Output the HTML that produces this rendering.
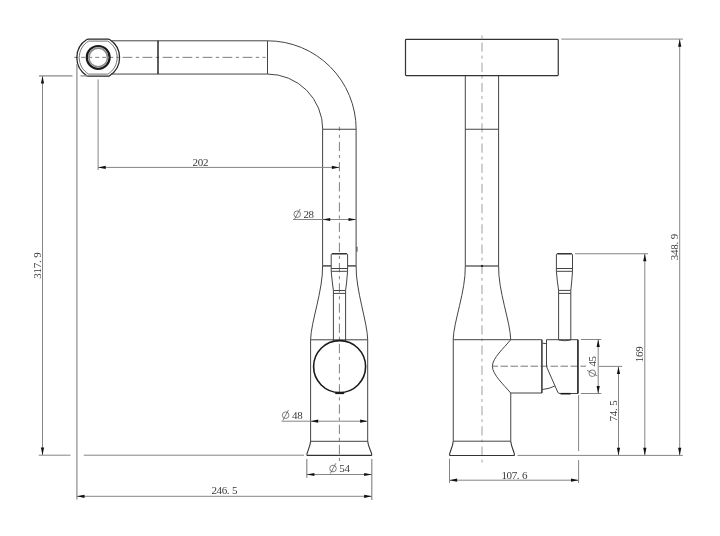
<!DOCTYPE html>
<html><head><meta charset="utf-8"><title>Faucet dimensions</title>
<style>
html,body{margin:0;padding:0;background:#fff;}
body{width:720px;height:536px;overflow:hidden;}
svg{display:block;}
text{font-family:"Liberation Serif",serif;font-size:11px;fill:#3a3a3a;}
.o{fill:none;stroke:#444;stroke-width:1;}
.k{fill:none;stroke:#1a1a1a;stroke-width:1.6;}
.d{fill:none;stroke:#858585;stroke-width:1;}
.s{fill:none;stroke:#555;stroke-width:0.75;}
.e{fill:none;stroke:#8a8a8a;stroke-width:1.2;}
.c{fill:none;stroke:#999;stroke-width:0.95;stroke-dasharray:8 2.5 2 2.5;}
.a{fill:#111;stroke:none;}
</style></head><body>
<svg width="720" height="536" viewBox="0 0 720 536">
<defs><filter id="idf" x="0" y="0" width="720" height="536" filterUnits="userSpaceOnUse" color-interpolation-filters="sRGB"><feOffset dx="0" dy="0"/></filter></defs>
<rect width="720" height="536" fill="#fff"/>

<g id="front">
<path class="c" style="stroke:#777;stroke-dasharray:4 3" d="M74.2,57.35H120"/>
<path class="c" style="stroke:#777;stroke-dasharray:9.7 3.5 3.3 3.5" d="M122.6,57.35H265.6"/>
<path class="c" style="stroke:#777;stroke-dasharray:9.3 3.8 3.1 4;stroke-dashoffset:5.1" d="M339.4,126.7V462"/>
<path class="o" style="stroke:#262626;stroke-width:1.25" d="M88.2,39H108.2Q109,39 109.6,39.5A21.4,21.4 0 0 1 109.6,75.7Q109,76.2 108.2,76.2H88.2Q87.4,76.2 86.8,75.7A21.4,21.4 0 0 1 86.8,39.5Q87.4,39 88.2,39Z"/>
<path class="o" style="stroke:#5a5a5a;stroke-width:0.85" d="M88.6,41.1H107.8A19.2,19.2 0 0 1 107.8,74.1H88.6A19.2,19.2 0 0 1 88.6,41.1Z"/>
<circle cx="98.2" cy="57.4" r="11.4" class="k" style="stroke-width:2.2"/>
<circle cx="98.2" cy="57.4" r="9.3" class="e" style="stroke-width:1.6;stroke:#8a8a8a"/>
<path class="o" d="M111.4,40.8H267.5A88.65,88.65 0 0 1 356.15,129.25"/>
<path class="o" d="M111,74.05H267.5A55.25,55.25 0 0 1 322.75,129.25"/>
<path class="k" d="M158,40.8V74" style="stroke-width:1.4"/>
<path class="o" d="M267.5,40.8V74"/>
<path class="o" d="M322.75,129.25H356.15"/>
<path class="o" d="M322.6,129.25V265.3M356.1,129.25V265.3"/>
<path d="M322.6,265.8H331.2M347.7,265.8H356.1" style="fill:none;stroke:#666;stroke-width:1.8"/>
<path class="o" d="M357,246.7V251.7"/>
<path class="o" d="M322.6,265.3C323.1,290.4 310.9,321.9 310.6,339.8"/>
<path class="o" d="M356.1,265.3C355.6,290.4 367.4,321.9 367.7,339.8"/>
<path class="o" d="M310.6,339.8H367.7"/>
<path class="o" d="M310.6,339.8V441.3M367.7,339.8V441.3"/>
<path class="o" d="M310.6,441.3H367.7"/>
<path class="o" style="stroke:#333;stroke-width:1.1" d="M310.6,441.3C310.3,446 307.7,450.5 306.9,454.2Q306.6,455.4 307.8,455.4H370.8Q372,455.4 371.7,454.2C370.9,450.5 368,446 367.7,441.3"/>
<path class="o" d="M331.2,271.3V254.8Q331.2,253.8 332.2,253.8H346.6Q347.6,253.8 347.6,254.8V271.3"/>
<path class="k" style="stroke-width:1.3;stroke:#333" d="M332,253.7H346.8"/>
<path class="o" d="M331.2,268.5H347.6M331.2,271.3H347.6"/>
<path class="o" d="M331.2,271.3Q332.3,283 333.4,290.5V341M347.6,271.3Q346.7,283 345.6,290.5V341"/>
<path class="o" d="M333.4,290.5H345.6M333.4,293.4H345.6"/>
<circle cx="339.6" cy="366.6" r="26" class="k"/>
<path class="k" d="M335.2,393.5H344.2" style="stroke-width:1.2"/>
</g>

<g id="side">
<path class="c" style="stroke:#9a9a9a;stroke-dasharray:9.2 4 2.8 4.2;stroke-dashoffset:9.2" d="M482,31.5V463.5"/>
<path class="c" d="M492.5,366.2H586" style="stroke:#6a6a6a;stroke-width:0.9;stroke-dasharray:7.5 2.5;stroke-dashoffset:2"/>
<rect x="405.5" y="39.35" width="152.75" height="36.3" rx="0.8" class="o" style="stroke-width:1.2;stroke:#333"/>
<path class="o" d="M465.3,75.65V266M498.6,75.65V266"/>
<path class="o" d="M465.3,129.25H498.6"/>
<path d="M465.3,266H498.6" style="fill:none;stroke:#666;stroke-width:1.6"/>
<circle cx="482" cy="266" r="0.9" fill="#000"/>
<path class="o" d="M465.3,266C465.8,291 453.5,322 453.2,339.6"/>
<path class="o" d="M498.6,266C498.1,291 510.4,322 510.7,339.6"/>
<path class="o" d="M453.2,339.7H541.9"/>
<path class="o" d="M453.25,339.6V441.2M510.75,393V441.2"/>
<path class="o" d="M453.25,441.2H510.75"/>
<path class="o" style="stroke:#333;stroke-width:1.1" d="M453.25,441.2C452.9,446 450.4,450.5 449.6,454.3Q449.3,455.5 450.5,455.5H513.5Q514.7,455.5 514.4,454.3C513.6,450.5 511.1,446 510.75,441.2"/>
<path class="o" d="M510.7,339.7C504,348 492.4,358 492.4,366.3C492.4,374.5 504,385 510.7,393"/>
<path class="o" d="M510.7,393H541.9"/>
<path class="o" style="stroke:#303030;stroke-width:1.5" d="M541.9,339.7V393"/>
<path class="o" d="M542.5,343.2L546.5,343.7"/>
<path class="o" d="M546.5,339.7H577.9V393.5H560Q558.3,393.5 557.7,392L546.5,366.6Z"/>
<path class="o" style="stroke:#2a2a2a;stroke-width:1.5" d="M577.9,339.7V393.5"/>
<path class="o" d="M542.5,389.5Q549.5,388.8 554.8,386"/>
<path class="k" d="M560.6,393.7H570.6" style="stroke-width:1.6"/>
<path class="o" d="M556.4,271.3V254.8Q556.4,253.8 557.4,253.8H571.5Q572.5,253.8 572.5,254.8V271.3"/>
<path class="k" style="stroke-width:1.3;stroke:#333" d="M557.2,253.7H571.7"/>
<path class="o" d="M556.4,268.5H572.5M556.4,271.3H572.5"/>
<path class="o" d="M556.4,271.3Q557.4,283 558.6,290.4V340Q564.7,341.5 570.8,340V290.4Q571.7,283 572.5,271.3"/>
<path class="o" d="M558.6,290.4H570.8M558.6,293.4H570.8"/>
</g>

<g id="dims" filter="url(#idf)">
<path class="e" d="M39,75.9H72.5M80.5,75.9H88"/>
<path class="d" d="M38.75,455.2H70.5M83.75,455.2H304"/>
<path class="d" d="M42.5,76V455"/>
<path class="a" d="M42.5,75.9L44.1,83.5H40.9Z"/>
<path class="a" d="M42.5,455.2L44.1,447.59999999999997H40.9Z"/>
<text transform="translate(41.2,278.7) rotate(-90)" x="0.00 5.22 10.44 15.66 20.88">317.9</text>
<path class="e" d="M76.9,64V499.5"/>
<path class="e" d="M371.8,459V500"/>
<path class="d" d="M76.9,496.3H371.8"/>
<path class="a" d="M76.9,496.3L84.5,494.7V497.90000000000003Z"/>
<path class="a" d="M371.8,496.3L364.2,494.7V497.90000000000003Z"/>
<text y="494.2" x="211.40 216.55 221.70 226.85 232.00">246.5</text>
<path class="d" d="M98.1,79.4V170"/>
<path class="d" d="M98.1,167.4H339.4"/>
<path class="a" d="M98.1,167.4L105.69999999999999,165.8V169.0Z"/>
<path class="a" d="M339.4,167.4L331.79999999999995,165.8V169.0Z"/>
<text y="165.7" x="192.40 197.75 203.10">202</text>
<path class="d" d="M293,219.5H356.1"/>
<path class="a" d="M322.6,219.5L330.20000000000005,217.9V221.1Z"/>
<path class="a" d="M356.1,219.5L348.5,217.9V221.1Z"/>
<circle cx="297.2" cy="214.2" r="3.3" class="s"/><path class="s" d="M294.5,219.29999999999998L300.09999999999997,208.89999999999998"/>
<text y="217.6" x="303.40 308.62">28</text>
<path class="d" d="M281.5,421.2H367.7"/>
<path class="a" d="M310.6,421.2L318.20000000000005,419.59999999999997V422.8Z"/>
<path class="a" d="M367.7,421.2L360.09999999999997,419.59999999999997V422.8Z"/>
<circle cx="285.6" cy="415.2" r="3.3" class="s"/><path class="s" d="M282.90000000000003,420.3L288.5,409.9"/>
<text y="418.8" x="292.00 297.22">48</text>
<path class="e" d="M306.8,459V477.7"/>
<path class="d" d="M306.8,474.5H371.8"/>
<path class="a" d="M306.8,474.5L314.40000000000003,472.9V476.1Z"/>
<path class="a" d="M371.8,474.5L364.2,472.9V476.1Z"/>
<circle cx="333" cy="468.5" r="3.3" class="s"/><path class="s" d="M330.3,473.6L335.9,463.2"/>
<text y="472.1" x="339.30 344.52">54</text>
<path class="e" style="stroke:#a0a0a0;stroke-width:1.3" d="M561.25,39.2H683"/>
<path class="d" d="M517.5,455.4H682.8"/>
<path class="d" d="M679.7,39V455"/>
<path class="a" d="M679.7,39.2L681.3000000000001,46.800000000000004H678.1Z"/>
<path class="a" d="M679.7,455.4L681.3000000000001,447.79999999999995H678.1Z"/>
<text transform="translate(677.7,260.2) rotate(-90)" x="0.00 5.22 10.44 15.66 20.88">348.9</text>
<path class="d" d="M575,253.75H648"/>
<path class="d" d="M644.8,254V455"/>
<path class="a" d="M644.8,253.75L646.4,261.35H643.1999999999999Z"/>
<path class="a" d="M644.8,455.4L646.4,447.79999999999995H643.1999999999999Z"/>
<text transform="translate(642.6,362.2) rotate(-90)" x="0.00 5.25 10.50">169</text>
<path class="d" d="M599,366.4H622.2"/>
<path class="d" d="M618.5,366.6V455"/>
<path class="a" d="M618.5,366.4L620.1,374.0H616.9Z"/>
<path class="a" d="M618.5,455.4L620.1,447.79999999999995H616.9Z"/>
<text transform="translate(616.8,421.5) rotate(-90)" x="0.00 5.22 10.44 15.66">74.5</text>
<path class="d" d="M580.9,339.5H601.3M580.9,393.5H601.3"/>
<path class="d" d="M598.2,339.5V393.5"/>
<path class="a" d="M598.2,339.5L599.8000000000001,347.1H596.6Z"/>
<path class="a" d="M598.2,393.5L599.8000000000001,385.9H596.6Z"/>
<g transform="translate(595.8,377.2) rotate(-90)"><circle cx="4" cy="-3.5" r="3.3" class="s"/><path class="s" d="M1.2999999999999998,1.5999999999999996L6.9,-8.8"/><text y="0" x="10.60 15.82">45</text></g>
<path class="d" d="M449.5,458.75V483"/>
<path class="d" d="M578.6,395V451M578.6,460V483"/>
<path class="d" d="M449.5,480.2H578.6"/>
<path class="a" d="M449.5,480.2L457.1,478.59999999999997V481.8Z"/>
<path class="a" d="M578.6,480.2L571.0,478.59999999999997V481.8Z"/>
<text y="478.6" x="501.40 506.52 511.64 516.76 521.88">107.6</text>
</g>
</svg>
</body></html>
